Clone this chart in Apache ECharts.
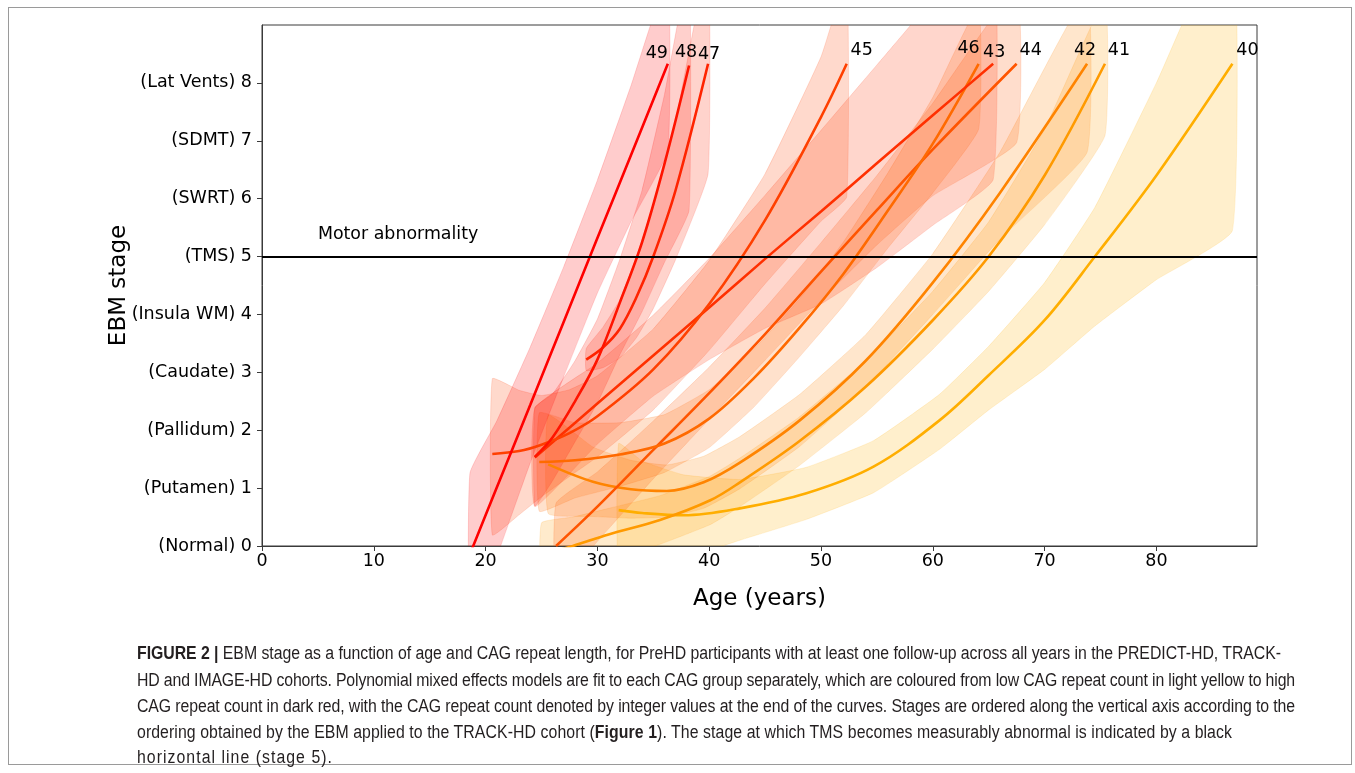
<!DOCTYPE html>
<html>
<head>
<meta charset="utf-8">
<script src="https://cdn.jsdelivr.net/npm/echarts@6/dist/echarts.min.js"></script>
<style>
html,body{margin:0;padding:0;background:#fff;}
#wrap{position:relative;width:1355px;height:773px;overflow:hidden;background:#fff;}
#chart{position:absolute;left:0;top:0;width:1355px;height:773px;}
#frame{position:absolute;left:8px;top:7px;width:1344px;height:758px;border:1px solid #9a9a9a;box-sizing:border-box;pointer-events:none;}
.cap{position:absolute;left:137px;white-space:nowrap;display:inline-block;font-family:"Liberation Sans",Arial,sans-serif;font-size:18px;line-height:20px;color:#231f20;transform-origin:0 50%;}
</style>
</head>
<body>
<div id="wrap">
<div id="chart"></div>
<div id="frame"></div>
<div class="cap" style="top:643px"><b>FIGURE 2 |</b> EBM stage as a function of age and CAG repeat length, for PreHD participants with at least one follow-up across all years in the PREDICT-HD, TRACK-</div>
<div class="cap" style="top:670px">HD and IMAGE-HD cohorts. Polynomial mixed effects models are fit to each CAG group separately, which are coloured from low CAG repeat count in light yellow to high</div>
<div class="cap" style="top:696px">CAG repeat count in dark red, with the CAG repeat count denoted by integer values at the end of the curves. Stages are ordered along the vertical axis according to the</div>
<div class="cap" style="top:722px">ordering obtained by the EBM applied to the TRACK-HD cohort (<b>Figure 1</b>). The stage at which TMS becomes measurably abnormal is indicated by a black</div>
<div class="cap" style="top:747px">horizontal line (stage 5).</div>
</div>
<script>
// ---------------- data ----------------
const stageNames = ['Normal','Putamen','Pallidum','Caudate','Insula WM','TMS','SWRT','SDMT','Lat Vents'];
const xTicks = [0,10,20,30,40,50,60,70,80];
const yTicks = [0,1,2,3,4,5,6,7,8];
const motorStage = 5;
const motorText = 'Motor abnormality';
const motorTextAt = [5, 5.38];

const age49 = [18.6, 21, 24, 27, 30, 33, 36.3];
const mid49 = [-0.14, 1.01, 2.44, 3.88, 5.32, 6.75, 8.33];
const lo49  = [-1.54, -0.19, 1.44, 2.93, 4.37, 5.6, 6.83];
const hi49  = [1.26, 2.16, 3.44, 4.83, 6.32, 7.95, 9.83];

const age48 = [24.4, 26, 28, 30, 32, 34, 36, 38.2];
const mid48 = [1.54, 1.88, 2.5, 3.22, 4.2, 5.25, 6.6, 8.3];
const lo48  = [0.69, 1.13, 1.8, 2.47, 3.3, 4.05, 4.9, 5.8];
const hi48  = [2.39, 2.63, 3.2, 3.92, 4.95, 6.15, 7.8, 10.0];

const age47 = [29.0, 30.5, 32, 33.5, 35, 37, 39.9];
const mid47 = [3.22, 3.43, 3.75, 4.3, 5.0, 6.15, 8.33];
const lo47  = [3.03, 3.08, 3.25, 3.6, 4.1, 4.95, 6.43];
const hi47  = [3.41, 3.78, 4.25, 5.0, 5.9, 7.35, 10.13];

const age45 = [20.6, 23, 25, 27.5, 30, 35, 40, 45, 50, 52.3];
const mid45 = [1.59, 1.64, 1.75, 1.95, 2.24, 3.05, 4.18, 5.63, 7.41, 8.33];
const lo45  = [0.19, 0.54, 0.85, 1.2, 1.54, 2.35, 3.38, 4.53, 5.61, 6.03];
const hi45  = [2.89, 2.69, 2.6, 2.7, 2.94, 3.75, 4.93, 6.43, 8.45, 9.8];

const age43 = [24.4, 30, 35, 40, 45, 50, 55, 60, 65.4];
const mid43 = [1.53, 2.46, 3.29, 4.12, 4.96, 5.78, 6.61, 7.44, 8.33];
const lo43  = [0.68, 1.76, 2.59, 3.22, 3.76, 4.18, 4.81, 5.54, 6.33];
const hi43  = [2.38, 3.16, 3.99, 4.97, 6.06, 7.18, 8.31, 9.44, 10.53];

const age46 = [24.8, 28, 32, 36, 40, 44, 48, 52, 56, 60, 64.1];
const mid46 = [1.45, 1.48, 1.58, 1.77, 2.2, 2.9, 3.75, 4.7, 5.8, 6.95, 8.33];
const lo46  = [0.6, 0.83, 1.03, 1.27, 1.7, 2.4, 3.25, 4.15, 5.15, 6.1, 7.2];
const hi46  = [2.3, 2.13, 2.13, 2.27, 2.7, 3.4, 4.25, 5.25, 6.45, 7.75, 9.33];

const age44 = [26.3, 30, 35, 40, 45, 50, 55, 60, 67.5];
const mid44 = [0.0, 0.68, 1.66, 2.64, 3.66, 4.74, 5.8, 6.85, 8.33];
const lo44  = [-0.74, 0.08, 1.16, 2.19, 3.21, 4.24, 5.2, 6.05, 6.97];
const hi44  = [0.74, 1.28, 2.16, 3.09, 4.11, 5.24, 6.4, 7.65, 9.63];

const age42 = [25.6, 29.6, 33, 36.2, 39.5, 42.75, 48.1, 54, 60, 66, 73.8];
const mid42 = [1.41, 1.11, 0.98, 0.95, 1.1, 1.44, 2.17, 3.2, 4.55, 6.1, 8.33];
const lo42  = [0.56, 0.51, 0.48, 0.5, 0.65, 0.99, 1.72, 2.75, 4.0, 5.3, 6.8];
const hi42  = [2.26, 1.71, 1.48, 1.4, 1.55, 1.89, 2.62, 3.65, 5.05, 6.8, 9.53];

const age41 = [25.0, 27.8, 31, 35.6, 40.1, 42.75, 48, 54, 60, 65, 70, 75.4];
const mid41 = [-0.15, 0.0, 0.2, 0.45, 0.79, 1.1, 1.8, 2.75, 3.9, 5.0, 6.4, 8.33];
const lo41  = [-0.7, -0.5, -0.25, 0.03, 0.37, 0.68, 1.38, 2.3, 3.4, 4.4, 5.55, 7.09];
const hi41  = [0.4, 0.5, 0.65, 0.87, 1.21, 1.52, 2.22, 3.2, 4.4, 5.6, 7.2, 9.43];

const age40 = [31.9, 34, 37.7, 42.75, 48.7, 54.7, 60.6, 65, 70, 74.5, 80, 86.8];
const mid40 = [0.62, 0.57, 0.53, 0.65, 0.91, 1.37, 2.17, 2.95, 3.9, 5.0, 6.4, 8.33];
const lo40  = [-0.58, -0.38, -0.22, 0.1, 0.46, 0.92, 1.67, 2.35, 3.05, 3.8, 4.6, 5.45];
const hi40  = [1.77, 1.47, 1.23, 1.15, 1.36, 1.82, 2.62, 3.45, 4.55, 5.85, 8.0, 10.83];

const curves = [
  {cag:'40', age:age40, mid:mid40, lo:lo40, hi:hi40},
  {cag:'41', age:age41, mid:mid41, lo:lo41, hi:hi41},
  {cag:'42', age:age42, mid:mid42, lo:lo42, hi:hi42},
  {cag:'44', age:age44, mid:mid44, lo:lo44, hi:hi44},
  {cag:'46', age:age46, mid:mid46, lo:lo46, hi:hi46},
  {cag:'43', age:age43, mid:mid43, lo:lo43, hi:hi43},
  {cag:'45', age:age45, mid:mid45, lo:lo45, hi:hi45},
  {cag:'47', age:age47, mid:mid47, lo:lo47, hi:hi47},
  {cag:'48', age:age48, mid:mid48, lo:lo48, hi:hi48},
  {cag:'49', age:age49, mid:mid49, lo:lo49, hi:hi49}
];

// ---------------- styles ----------------
const lineColor = {
  '49':[255,0,0], '48':[255,20,0], '47':[255,36,0], '45':[255,64,0], '43':[255,48,0],
  '44':[255,85,0], '46':[255,106,0], '42':[255,132,0], '41':[255,154,0], '40':[255,174,0]
};
const labelOffset = {
  '49':[-11,-10], '48':[-3,-13], '47':[1,-9], '45':[15,-13], '46':[-10,-15],
  '43':[1,-11], '44':[14,-13], '42':[-2,-13], '41':[14,-13], '40':[15,-13]
};
const FONT = 'DejaVu Sans';
function rgb(c){return 'rgb('+c.join(',')+')';}
function rgba(c,a){return 'rgba('+c.join(',')+','+a+')';}

const series = [];
curves.forEach(function(c){
  const col = lineColor[c.cag];
  series.push({
    type:'custom', name:'band'+c.cag, coordinateSystem:'cartesian2d', clip:true, silent:true, z:1,
    data:[[c.age[0], c.mid[0]]],
    renderItem:function(params, api){
      const pts = [];
      for (let i=0;i<c.age.length;i++) pts.push(api.coord([c.age[i], c.lo[i]]));
      for (let i=c.age.length-1;i>=0;i--) pts.push(api.coord([c.age[i], c.hi[i]]));
      return {type:'polygon', shape:{points:pts, smooth:0.12}, style:{fill:rgba(col,0.2), stroke:rgba(col,0.15), lineWidth:1}};
    }
  });
});
curves.forEach(function(c){
  const col = lineColor[c.cag];
  const n = c.age.length-1;
  series.push({
    type:'line', name:c.cag, z:3, clip:true, smooth:0.35, showSymbol:false, silent:true,
    lineStyle:{color:rgb(col), width:2.6},
    data:c.age.map(function(a,i){return [a, c.mid[i]];}),
    markPoint:{
      silent:true, symbol:'circle', symbolSize:0, animation:false,
      data:[{coord:[c.age[n], c.mid[n]], label:{show:true, position:'inside', formatter:c.cag,
        offset:labelOffset[c.cag], color:'#000', fontSize:17.5, fontFamily:FONT}}]
    }
  });
});
series.push({
  type:'line', name:'motor', z:4, data:[], silent:true,
  markLine:{silent:true, symbol:['none','none'], animation:false, label:{show:false},
    lineStyle:{color:'#000', width:2.2, type:'solid'}, data:[{yAxis:motorStage}]},
  markPoint:{silent:true, symbol:'circle', symbolSize:0, animation:false,
    data:[{coord:motorTextAt, label:{show:true, position:'right', distance:0, formatter:motorText,
      color:'#000', fontSize:17.4, fontFamily:FONT}}]}
});

const chart = echarts.init(document.getElementById('chart'), null, {renderer:'canvas'});
chart.setOption({
  animation:false,
  backgroundColor:'transparent',
  grid:{left:262, top:25, right:98, bottom:227, show:true, borderColor:'#3a3a3a', borderWidth:1, backgroundColor:'transparent'},
  xAxis:{
    type:'value', min:0, max:89, interval:10,
    name:'Age (years)', nameLocation:'middle', nameGap:42,
    nameTextStyle:{fontSize:23, fontFamily:FONT, color:'#000'},
    axisLine:{show:true, lineStyle:{color:'#3a3a3a', width:1}},
    axisTick:{show:true, inside:false, length:5, lineStyle:{color:'#3a3a3a'}, customValues:xTicks},
    axisLabel:{customValues:xTicks, fontSize:17.5, fontFamily:FONT, color:'#000', margin:6},
    splitLine:{show:false}
  },
  yAxis:{
    type:'value', min:0, max:9, interval:1,
    name:'EBM stage', nameLocation:'middle', nameGap:131, nameMoveOverlap:false,
    nameTextStyle:{fontSize:23, fontFamily:FONT, color:'#000'},
    axisLine:{show:true, lineStyle:{color:'#3a3a3a', width:1}},
    axisTick:{show:true, inside:false, length:5, lineStyle:{color:'#3a3a3a'}, customValues:yTicks},
    axisLabel:{customValues:yTicks, fontSize:17.5, fontFamily:FONT, color:'#000', margin:10,
      formatter:function(v){return '(' + stageNames[v] + ') ' + v;}},
    splitLine:{show:false}
  },
  series:series
});

// caption fitting: common horizontal condensing, then letter spacing to reach each line's measured extent
const capTargets = [1144, 1158, 1158, 1095, 196];
const capCondense = 0.88;
function fitCaps(){
  document.querySelectorAll('.cap').forEach(function(el,i){
    el.style.transform = 'none';
    el.style.letterSpacing = '0px';
    const w = el.getBoundingClientRect().width;
    const n = el.textContent.length;
    if (w > 0 && n > 0) {
      const ls = (capTargets[i]/capCondense - w) / n;
      el.style.letterSpacing = ls + 'px';
      el.style.transform = 'scaleX(' + capCondense + ')';
    }
  });
}
fitCaps();
if (document.fonts && document.fonts.ready) document.fonts.ready.then(fitCaps);
</script>
</body>
</html>
